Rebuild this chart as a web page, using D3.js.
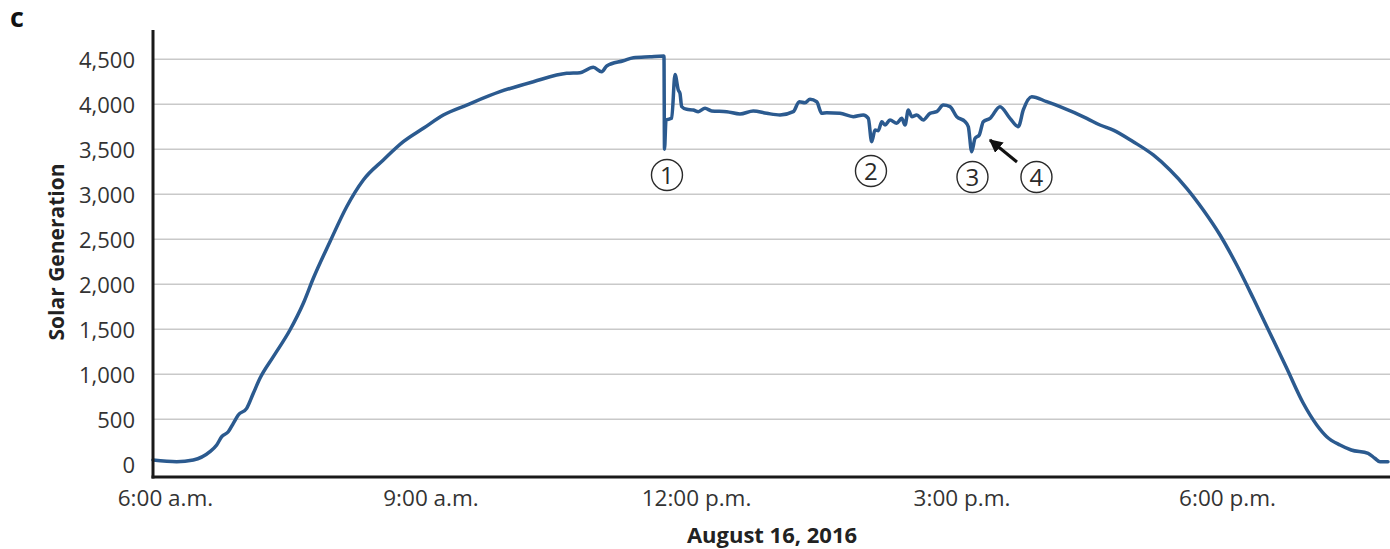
<!DOCTYPE html>
<html>
<head>
<meta charset="utf-8">
<script src="https://cdn.jsdelivr.net/npm/d3@7"></script>
<style>
  html, body { margin: 0; padding: 0; background: #fff; }
  svg { display: block; }
  text { font-family: "Open Sans", "DejaVu Sans", sans-serif; }
</style>
</head>
<body>
<svg id="chart" width="1390" height="549"></svg>
<script>
// ---- data (hour of day, solar generation) ----
const hours = [5.864, 6.132, 6.320, 6.508, 6.584, 6.641, 6.715, 6.772, 6.828, 6.923, 6.998, 7.073, 7.224, 7.412, 7.563, 7.676, 7.864, 8.053, 8.241, 8.467, 8.693, 8.919, 9.145, 9.409, 9.785, 10.162, 10.539, 10.689, 10.840, 10.934, 10.991, 11.179, 11.292, 11.480, 11.638,
  11.644, 11.661, 11.725, 11.763, 11.800, 11.819, 11.838, 11.895, 11.969, 12.026, 12.102, 12.177, 12.347, 12.497, 12.647, 12.799, 12.949, 13.099, 13.167, 13.232, 13.288, 13.364, 13.420, 13.477, 13.627, 13.777, 13.890, 13.947,
  13.985, 14.023, 14.060, 14.099, 14.136, 14.192, 14.268, 14.325, 14.362, 14.399, 14.438, 14.494, 14.569, 14.644, 14.720, 14.794, 14.870, 14.945, 15.040, 15.077,
  15.115, 15.153, 15.201, 15.246, 15.322, 15.435, 15.548, 15.642, 15.698, 15.793, 15.963, 16.113, 16.415, 16.565, 16.715, 16.941, 17.167, 17.356, 17.545, 17.732, 17.921, 18.110, 18.297, 18.486, 18.675, 18.862, 19.014, 19.127, 19.277, 19.404, 19.595, 19.670, 19.729, 19.819];
const generation = [48, 29, 48, 140, 214, 307, 362, 455, 548, 622, 789, 955, 1196, 1492, 1789, 2067, 2473, 2862, 3159, 3381, 3584, 3733, 3881, 3992, 4140, 4251, 4344, 4351, 4411, 4362, 4426, 4484, 4518, 4529, 4537,
  3500, 3826, 3844, 4330, 4159, 4122, 3974, 3944, 3937, 3918, 3956, 3926, 3918, 3892, 3926, 3900, 3881, 3918, 4029, 4018, 4055, 4029, 3900, 3907, 3900, 3863, 3881, 3844,
  3584, 3714, 3707, 3807, 3770, 3826, 3789, 3844, 3770, 3937, 3863, 3881, 3826, 3900, 3918, 3992, 3974, 3863, 3807, 3751,
  3474, 3622, 3659, 3807, 3844, 3974, 3844, 3751, 3937, 4085, 4029, 3974, 3844, 3770, 3714, 3584, 3437, 3270, 3067, 2826, 2548, 2214, 1844, 1456, 1067, 678, 437, 307, 214, 159, 122, 67, 29, 29];

const tickHours = [6, 9, 12, 15, 18];
const tickLabels = ["6:00 a.m.", "9:00 a.m.", "12:00 p.m.", "3:00 p.m.", "6:00 p.m."];
const yTicks = [0, 500, 1000, 1500, 2000, 2500, 3000, 3500, 4000, 4500];
const gridTicks = [500, 1000, 1500, 2000, 2500, 3000, 3500, 4000, 4500];

const annoLabels = ["1", "2", "3", "4"];
const annoHours = [11.672, 13.977, 15.124, 15.847];
const annoValues = [3214, 3259, 3192, 3192];
const arrowFrom = [15.627, 3359];
const arrowTo = [15.322, 3603];

const xTitle = "August 16, 2016";
const yTitle = "Solar Generation";
const panelLabel = "c";

// ---- layout ----
const svg = d3.select("#chart");
const axisX = 153, axisBottom = 477, axisTop = 30, rightEdge = 1390;

const x = d3.scaleLinear().domain([6, 18]).range([165, 1227]);
const y = d3.scaleLinear().domain([0, 4500]).range([464.3, 59.3]);

// gridlines
svg.append("g").selectAll("line").data(gridTicks).join("line")
  .attr("x1", axisX).attr("x2", rightEdge)
  .attr("y1", d => y(d)).attr("y2", d => y(d))
  .attr("stroke", "#c9c9c9").attr("stroke-width", 1.6);

// y tick labels via axis
const yAxis = d3.axisLeft(y).tickValues(yTicks).tickSize(0).tickPadding(0)
  .tickFormat(d3.format(","));
const gy = svg.append("g").attr("transform", `translate(135,0)`).call(yAxis);
gy.select(".domain").remove();
gy.selectAll("text").attr("font-size", 22).attr("fill", "#333")
  .attr("font-family", "'Open Sans', sans-serif").attr("dy", "0.35em");

// x tick labels via axis
const xAxis = d3.axisBottom(x).tickValues(tickHours).tickSize(0).tickPadding(0)
  .tickFormat((d, i) => tickLabels[i]);
const gx = svg.append("g").attr("transform", `translate(0,489)`).call(xAxis);
gx.select(".domain").remove();
gx.selectAll("text").attr("font-size", 22.5).attr("fill", "#333")
  .attr("font-family", "'Open Sans', sans-serif").attr("dy", "0.75em");

// data line
const pts = hours.map((h, i) => [h, generation[i]]);
svg.append("path").datum(pts)
  .attr("fill", "none").attr("stroke", "#2b5a8f").attr("stroke-width", 3.5)
  .attr("stroke-linejoin", "round").attr("stroke-linecap", "round")
  .attr("d", d3.line().curve(d3.curveMonotoneX).x(d => x(d[0])).y(d => y(d[1])));

// axes lines
svg.append("line").attr("x1", axisX).attr("x2", axisX).attr("y1", axisTop).attr("y2", axisBottom + 1.5)
  .attr("stroke", "#1a1a1a").attr("stroke-width", 3);
svg.append("line").attr("x1", axisX - 1.5).attr("x2", rightEdge).attr("y1", axisBottom).attr("y2", axisBottom)
  .attr("stroke", "#1a1a1a").attr("stroke-width", 3);

// annotations
const ag = svg.append("g");
annoLabels.forEach((lab, i) => {
  const cx = x(annoHours[i]), cy = y(annoValues[i]);
  ag.append("circle").attr("cx", cx).attr("cy", cy).attr("r", 15.5)
    .attr("fill", "#fff").attr("stroke", "#2a2a2a").attr("stroke-width", 1.4);
  ag.append("text").attr("x", cx).attr("y", cy).attr("dy", "0.36em")
    .attr("text-anchor", "middle").attr("font-size", 24).attr("fill", "#2a2a2a")
    .text(lab);
});

// arrow
svg.append("defs").append("marker").attr("id", "ah")
  .attr("viewBox", "0 0 10 10").attr("refX", 9).attr("refY", 5)
  .attr("markerWidth", 4.5).attr("markerHeight", 4.5).attr("orient", "auto")
  .append("path").attr("d", "M0,0 L10,5 L0,10 z").attr("fill", "#111");
svg.append("line")
  .attr("x1", x(arrowFrom[0])).attr("y1", y(arrowFrom[1]))
  .attr("x2", x(arrowTo[0])).attr("y2", y(arrowTo[1]))
  .attr("stroke", "#111").attr("stroke-width", 3).attr("marker-end", "url(#ah)");

// titles
svg.append("text").attr("x", 772).attr("y", 543).attr("text-anchor", "middle")
  .attr("font-size", 22).attr("font-weight", "bold").attr("fill", "#222").text(xTitle);
svg.append("text").attr("transform", "translate(64,252) rotate(-90)").attr("text-anchor", "middle")
  .attr("font-size", 21).attr("font-weight", "bold").attr("fill", "#222").text(yTitle);
svg.append("text").attr("x", 10).attr("y", 27)
  .attr("font-family", "'Liberation Sans', Arial, sans-serif")
  .attr("font-size", 27).attr("font-weight", "bold").attr("fill", "#111").text(panelLabel);
</script>
</body>
</html>
